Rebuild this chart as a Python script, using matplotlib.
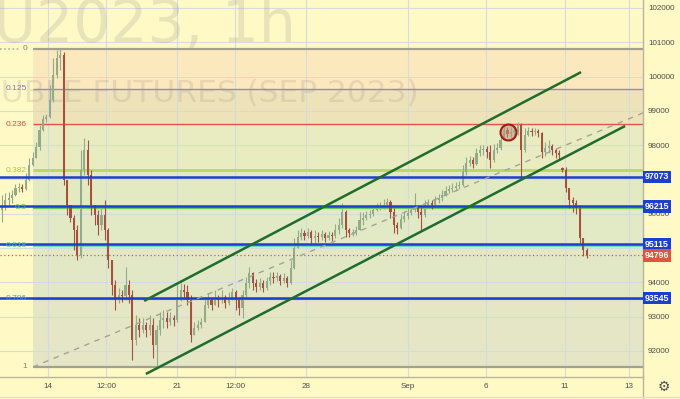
import matplotlib
matplotlib.use('Agg')
import matplotlib.pyplot as plt
import matplotlib.transforms as mtransforms
from matplotlib.lines import Line2D
import numpy as np

# ---------------- data (2-hour candles, SiU2023) ----------------
opens = [
    96110, 96260, 96400, 96460, 96550, 96750, 96780, 96720, 96990, 97420,
    97630, 97950, 98440, 98760, 98820, 99320, 100050, 100540, 100630, 96990,
    96260, 95880, 95530, 94800, 97280, 97860, 97130, 96260, 95960, 95670,
    95960, 95530, 94650, 93920, 93490, 93630, 93600, 93920, 93630, 92320,
    92760, 92610, 92760, 92610, 92760, 92170, 92610, 92900, 92960, 92850,
    92960, 92900, 93490, 93780, 93720, 93490, 92470, 92670, 92760, 92850,
    93340, 93490, 93340, 93550, 93490, 93570, 93400, 93550, 93720, 93490,
    93250, 93630, 93980, 94270, 93980, 93870, 93980, 93840, 94040, 94160,
    94130, 94190, 94040, 94130, 93980, 94420, 95000, 95320, 95440, 95350,
    95470, 95290, 95350, 95320, 95410, 95290, 95380, 95350, 95530, 95670,
    96050, 95530, 95440, 95440, 95530, 95820, 95880, 95960, 95990, 96110,
    96200, 96230, 96260, 96340, 96050, 95670, 95590, 95850, 95940, 96020,
    96110, 96200, 96050, 95960, 96260, 96320, 96260, 96400, 96460, 96550,
    96660, 96720, 96750, 96810, 96840, 97220, 97480, 97570, 97450, 97770,
    97860, 97890, 97800, 97570, 97860, 97920, 98150, 98440, 98330, 98390,
    98410, 98590, 97860, 98300, 98410, 98390, 98410, 98360, 97800, 97920,
    97980, 97860, 97770, 97330, 97280, 96750, 96400, 96320, 96170, 95290,
    94940,
]
highs = [
    96550, 96610, 96640, 96690, 96870, 96900, 96870, 97190, 97630, 97800,
    98090, 98590, 98880, 98910, 99760, 100540, 100780, 100800, 100720, 96990,
    96260, 95960, 95670, 97860, 98210, 98150, 97280, 96260, 96110, 96260,
    96400, 95600, 94650, 94070, 93840, 93780, 94450, 94070, 93780, 93050,
    92960, 92960, 92850, 93050, 92960, 92760, 93140, 93200, 93140, 93140,
    93050, 93980, 93980, 93950, 93920, 93630, 92850, 92900, 92960, 93570,
    93690, 93570, 93780, 93630, 93780, 93630, 93720, 93840, 93780, 93550,
    93780, 94160, 94450, 94300, 94100, 94130, 94070, 94160, 94300, 94300,
    94300, 94240, 94270, 94190, 94650, 95290, 95530, 95590, 95530, 95590,
    95530, 95530, 95470, 95530, 95470, 95500, 95470, 95700, 95880, 96320,
    96100, 95590, 95560, 95640, 96050, 96050, 96080, 96110, 96260, 96320,
    96340, 96430, 96460, 96400, 96170, 95760, 95990, 96080, 96200, 96230,
    96610, 96260, 96260, 96400, 96430, 96400, 96520, 96580, 96690, 96810,
    96840, 96900, 96930, 96960, 97420, 97660, 97690, 97660, 97920, 98010,
    98010, 97980, 98010, 98030, 98060, 98300, 98590, 98530, 98530, 98560,
    98680, 98650, 98500, 98530, 98500, 98500, 98470, 98390, 98090, 98150,
    98030, 97920, 97860, 97360, 97360, 96750, 96490, 96400, 96260, 95290,
    95000,
]
lows = [
    95760, 96110, 96260, 96320, 96520, 96640, 96640, 96690, 96950, 97390,
    97630, 97860, 98400, 98680, 98790, 99260, 99960, 100190, 96840, 95960,
    95760, 94940, 94650, 94710, 97130, 96840, 95960, 95670, 95380, 95530,
    95240, 94420, 93630, 93200, 93400, 93430, 93490, 93400, 91740, 92170,
    92410, 92530, 92410, 92470, 91800, 91530, 92470, 92670, 92670, 92760,
    92730, 92850, 93450, 93550, 93340, 92260, 92470, 92610, 92670, 92850,
    93250, 93200, 93340, 93280, 93400, 93250, 93340, 93490, 93200, 93050,
    92960, 93550, 93840, 93780, 93720, 93780, 93720, 93780, 93920, 93980,
    94040, 93920, 93980, 93870, 93950, 94380, 95000, 95240, 95240, 95290,
    95090, 95150, 95180, 95240, 95180, 95240, 95210, 95290, 95410, 95590,
    95320, 95320, 95350, 95380, 95530, 95670, 95820, 95880, 95940, 96080,
    96110, 96140, 96200, 95880, 95440, 95410, 95550, 95760, 95850, 95960,
    96050, 95880, 95530, 95900, 96170, 96140, 96260, 96320, 96370, 96520,
    96610, 96640, 96690, 96720, 96810, 97130, 97390, 97340, 97420, 97690,
    97710, 97630, 97340, 97520, 97770, 97860, 98150, 98240, 98240, 98270,
    98300, 97070, 97800, 98270, 98270, 98300, 98240, 97630, 97690, 97770,
    97710, 97630, 97600, 97220, 96640, 96170, 96050, 95990, 95150, 94760,
    94710,
]
closes = [
    96260, 96400, 96460, 96550, 96750, 96780, 96720, 96990, 97420, 97630,
    97950, 98440, 98760, 98820, 99320, 100050, 100540, 100630, 96990, 96260,
    95880, 95530, 94800, 97280, 97860, 97130, 96260, 95960, 95670, 95960,
    95530, 94650, 93920, 93490, 93630, 93600, 93920, 93630, 92320, 92760,
    92610, 92760, 92610, 92760, 92170, 92610, 92900, 92960, 92850, 92960,
    92900, 93490, 93780, 93720, 93490, 92470, 92670, 92760, 92850, 93340,
    93490, 93340, 93550, 93490, 93570, 93400, 93550, 93720, 93490, 93250,
    93630, 93980, 94270, 93980, 93870, 93980, 93840, 94040, 94160, 94130,
    94190, 94040, 94130, 93980, 94420, 95000, 95320, 95440, 95350, 95470,
    95290, 95350, 95320, 95410, 95290, 95380, 95350, 95530, 95670, 96050,
    95530, 95440, 95440, 95530, 95820, 95880, 95960, 95990, 96110, 96200,
    96230, 96260, 96340, 96050, 95670, 95590, 95850, 95940, 96020, 96110,
    96200, 96050, 95960, 96260, 96320, 96260, 96400, 96460, 96550, 96660,
    96720, 96750, 96810, 96840, 97220, 97480, 97570, 97450, 97770, 97860,
    97890, 97800, 97570, 97860, 97920, 98150, 98440, 98330, 98390, 98410,
    98590, 97860, 98300, 98410, 98390, 98410, 98360, 97800, 97920, 97980,
    97860, 97770, 97710, 97280, 96750, 96400, 96320, 96170, 95290, 94940,
    94796,
]

# Fibonacci retracement (anchor bar, price at level 0 and level 1)
fib_anchor_bar = 9.1
fib_price_0 = 100805
fib_price_1 = 91534
fib_ratios = [0, 0.125, 0.236, 0.382, 0.5, 0.618, 0.786, 1]
fib_labels = ['0', '0.125', '0.236', '0.382', '0.5', '0.618', '0.786', '1']

# user horizontal levels and last price
marked_levels = [97073, 96215, 95115, 93545]
last_price = 94796

# drawn lines (bar index, price)
upper_bars, upper_prices = [41.4, 168.4], [93460, 100130]
lower_bars, lower_prices = [41.9, 181.2], [91330, 98560]
trend_bars, trend_prices = [9.1, 195.0], [91534, 99300]
circle_bar, circle_price = 147.2, 98385

# axes
x_tick_bars = [13.46, 30.3, 50.96, 67.8, 88.5, 118.1, 140.8, 163.7, 182.4]
x_tick_labels = ['14', '12:00', '21', '12:00', '28', 'Sep', '6', '11', '13']
y_ticks = [92000, 93000, 94000, 95000, 96000, 97000, 98000, 99000, 100000, 101000, 102000]

# ---------------- style ----------------
BG = '#fff9c6'
zone_colors = ['#fce8bd', '#eee2b9', '#e8ecc0', '#e3eac1', '#e1eac5', '#e2e8c6', '#e5e6c6']
fib_line_colors = ['#a3a08e', '#9d82cc', '#e5534b', '#b8d56a', '#62cc5c', '#6fdab8', '#5ab0e4', '#a3a08e']
fib_label_colors = ['#858272', '#8c6fd0', '#e04a3f', '#a6c84a', '#4cc94c', '#3cc4a4', '#3fa0df', '#858272']
fib_line_widths = [1.6, 1.0, 1.0, 2.0, 1.6, 1.6, 1.6, 1.6]
UP = '#93ab8b'
DOWN = '#a5513d'
BLUE = '#1d3fd0'
RED = '#e0553d'
GREEN = '#1e6d2c'
AXIS_TXT = '#4d4d4d'
SPINE = '#b9b49c'
FONT = 'Liberation Sans'

fig = plt.figure(figsize=(6.8, 3.99), dpi=100, facecolor=BG)
ax = fig.add_axes([0, 22 / 399, 643 / 680, 377 / 399])
ax.set_facecolor(BG)
ax.set_xlim(-0.49, 186.4)
ax.set_ylim(91242, 102233)
x_left, x_right = ax.get_xlim()

# watermark
ax.text(296 / 680, 1 - 42 / 399, 'SiU2023, 1h', transform=fig.transFigure, ha='right',
        va='baseline', fontsize=42, color='#8a887c', alpha=0.19, family='DejaVu Sans', zorder=0.8)
ax.text(419 / 680, 1 - 102 / 399, 'RUBLE FUTURES (SEP 2023)', transform=fig.transFigure,
        ha='right', va='baseline', fontsize=22.5, color='#8a887c', alpha=0.19,
        family='DejaVu Sans', zorder=0.8)

# fib levels
fib_prices = [fib_price_0 + r * (fib_price_1 - fib_price_0) for r in fib_ratios]
for k in range(len(fib_prices) - 1):
    ax.fill_between([fib_anchor_bar, x_right], fib_prices[k], fib_prices[k + 1],
                    color=zone_colors[k], lw=0, zorder=0.2)
for p, lab, lc, tc, lw in zip(fib_prices, fib_labels, fib_line_colors, fib_label_colors, fib_line_widths):
    ax.hlines(p, fib_anchor_bar, x_right, colors=lc, lw=lw, zorder=1)
    ax.annotate(lab, xy=(fib_anchor_bar, p), xytext=(-6, 0), textcoords='offset pixels',
                ha='right', va='center', fontsize=6, color=tc, family=FONT, zorder=5)
ax.hlines(fib_price_0, x_left, 5.0, colors='#b3b09f', lw=1.2, linestyles=(0, (1, 1.5)), zorder=1)

# grid
ax.set_axisbelow(True)
ax.grid(True, color='#d3dae0', lw=0.8, alpha=0.9)

# candles
o = np.array(opens, float)
h = np.array(highs, float)
l = np.array(lows, float)
c = np.array(closes, float)
x = np.arange(len(c))
cols = np.where(c >= o, UP, DOWN)
ax.vlines(x, l, h, colors=cols, lw=0.8, zorder=2)
ax.bar(x, np.maximum(np.abs(c - o), 25), bottom=np.minimum(o, c), width=0.62,
       color=cols, lw=0, zorder=2.1)

# horizontal user levels
for p in marked_levels:
    ax.axhline(p, color=BLUE, lw=1.8, zorder=3)
ax.axhline(last_price, color=RED, lw=0.9, ls=(0, (1, 2)), zorder=3)

# trend / channel lines
ax.plot(trend_bars, trend_prices, color='#a4a49a', lw=1.0, ls=(0, (4, 4)), zorder=3)
ax.plot(upper_bars, upper_prices, color=GREEN, lw=1.8, zorder=3.5, solid_capstyle='butt')
ax.plot(lower_bars, lower_prices, color=GREEN, lw=1.8, zorder=3.5, solid_capstyle='butt')
ax.plot([circle_bar], [circle_price], 'o', ms=11.5, mfc=(0.76, 0.58, 0.48, 0.55),
        mec='#9e1b1b', mew=1.5, zorder=4)

# axes styling
for s in ['top', 'left']:
    ax.spines[s].set_visible(False)
for s in ['right', 'bottom']:
    ax.spines[s].set_color(SPINE)
    ax.spines[s].set_linewidth(1.0)
ax.yaxis.tick_right()
ax.set_yticks(y_ticks)
ax.set_yticklabels([str(v) for v in y_ticks])
ax.set_xticks(x_tick_bars)
ax.set_xticklabels(x_tick_labels)
ax.tick_params(axis='y', length=0, pad=3.6, labelsize=5.8, labelcolor=AXIS_TXT)
ax.tick_params(axis='x', length=0, pad=4.3, labelsize=5.8, labelcolor=AXIS_TXT)
for t in ax.get_xticklabels() + ax.get_yticklabels():
    t.set_family(FONT)

# price labels on the right axis
trans = mtransforms.blended_transform_factory(ax.transAxes, ax.transData)
for p in marked_levels:
    ax.annotate(f'{p}', xy=(1.0, p), xycoords=trans, xytext=(2, 0), textcoords='offset pixels',
                ha='left', va='center', fontsize=6.3, fontweight='bold', color='white', family=FONT,
                bbox=dict(boxstyle='square,pad=0.22', fc=BLUE, ec='none'), zorder=10,
                annotation_clip=False)
ax.annotate(f'{last_price}', xy=(1.0, last_price), xycoords=trans, xytext=(2, 0),
            textcoords='offset pixels', ha='left', va='center', fontsize=6.3, fontweight='bold',
            color='white', family=FONT, bbox=dict(boxstyle='square,pad=0.22', fc=RED, ec='none'),
            zorder=10, annotation_clip=False)

# separators and settings icon
fig.add_artist(Line2D([643 / 680, 643 / 680], [0, 22 / 399], color=SPINE, lw=1.0))
fig.add_artist(Line2D([0, 1], [2 / 399, 2 / 399], color='#e6e0c0', lw=1.0))
fig.text(664 / 680, 1 - 387 / 399, '\u2699', ha='center', va='center', fontsize=10,
         color='#505050', family='DejaVu Sans')

fig.savefig('out.png', dpi=100, facecolor=BG)
